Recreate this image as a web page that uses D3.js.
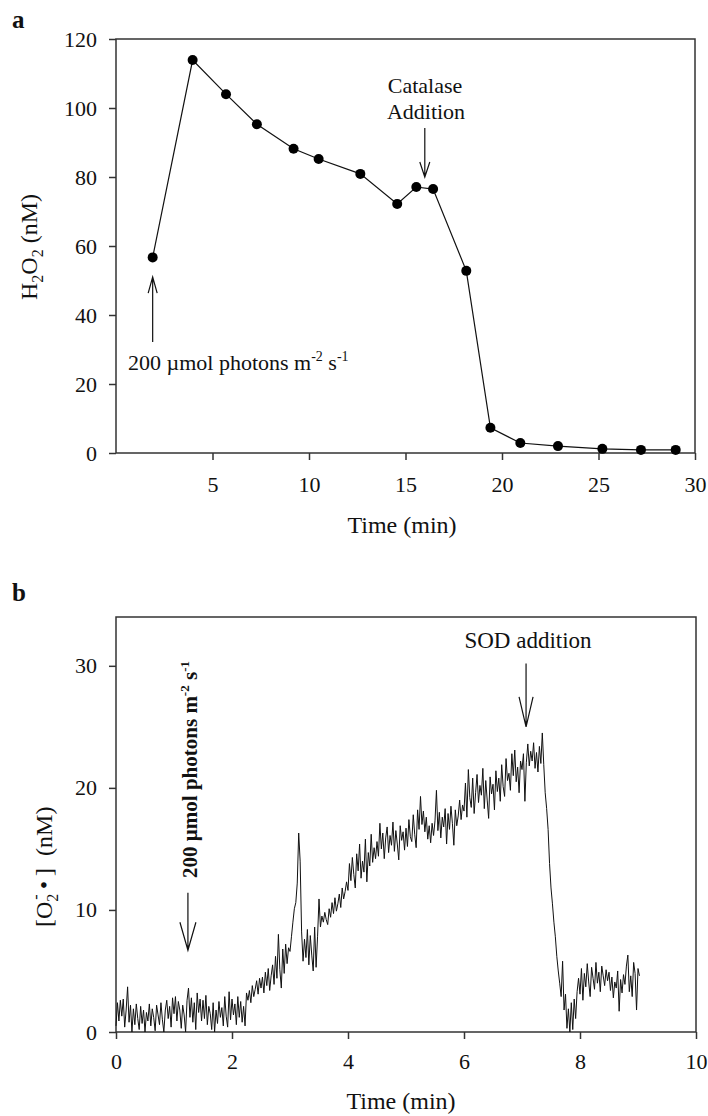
<!DOCTYPE html>
<meta charset="utf-8">
<script src="https://cdn.jsdelivr.net/npm/d3@7/dist/d3.min.js"></script>
<html>
<head>
<style>
  body { margin: 0; background: #fff; }
  svg { display: block; }
</style>
</head>
<body>
<div id="chart"></div>
<script>

// panel a : H2O2 (nM) vs time (min)
var h2o2Time  = [1.9, 3.97, 5.7, 7.3, 9.2, 10.5, 12.66, 14.57, 15.56, 16.43, 18.15, 19.4, 20.95, 22.9, 25.2, 27.2, 29.0];
var h2o2Value = [56.7, 113.9, 104.0, 95.3, 88.2, 85.2, 80.9, 72.2, 77.1, 76.5, 52.8, 7.3, 2.9, 2.0, 1.2, 0.9, 0.9];
var aTicksX = [5, 10, 15, 20, 25, 30];
var aTicksY = [0, 20, 40, 60, 80, 100, 120];

// panel b : superoxide trace, one reading every 0.025 min from t = 0
var o2Start = 0, o2Step = 0.025;
var o2Value = [
  0.5, 2.4, 0.9, 2.6, 1.3, 2.7, 0.4, 1.8, 3.7, 0.8, 2.2, 0.0, 1.9, 0.6, 2.3, 1.1, 0.2, 2.1, 0.7, 1.8,
  0.0, 1.6, 0.9, 2.3, 0.5, 1.9, 1.2, 0.1, 2.2, 1.4, 0.6, 2.4, 1.0, 0.0, 1.8, 2.6, 1.1, 2.1, 0.4, 2.8,
  1.5, 2.9, 0.9, 2.5, 1.8, 0.3, 2.2, 1.4, 0.0, 2.6, 3.6, 1.2, 2.8, 0.8, 2.4, 0.2, 3.2, 1.6, 2.7, 0.9,
  2.6, 1.1, 3.0, 0.6, 2.1, 1.5, 0.2, 2.4, 0.0, 1.8, 0.7, 2.5, 1.2, 2.0, 0.5, 2.9, 1.3, 0.4, 3.3, 1.0,
  2.7, 1.4, 2.3, 0.6, 2.9, 1.2, 2.5, 0.8, 2.1, 0.5, 3.2, 2.6, 3.4, 2.4, 3.8, 2.9, 3.5, 4.2, 3.1, 4.4,
  3.6, 4.5, 3.2, 4.9, 3.8, 5.2, 3.4, 4.6, 5.5, 3.9, 6.2, 4.4, 8.0, 5.1, 3.6, 6.8, 4.8, 7.2, 5.6, 6.9,
  6.6, 7.8, 9.0, 10.1, 10.6, 12.2, 16.3, 14.0, 8.2, 5.8, 7.6, 6.1, 8.4, 5.5, 7.9, 6.3, 5.0, 8.6, 5.3, 7.8,
  10.9, 8.6, 9.5, 9.0, 9.8, 9.2, 8.8, 10.1, 9.4, 10.6, 9.7, 11.0, 9.9, 10.5, 11.3, 10.2, 11.8, 10.9, 11.5, 12.3,
  11.6, 13.8, 12.4, 14.3, 12.9, 11.8, 14.6, 13.2, 15.4, 12.6, 14.0, 13.1, 15.8, 12.3, 14.7, 13.6, 16.2, 13.9, 15.1, 14.2,
  15.6, 14.4, 17.1, 15.0, 16.3, 14.2, 15.9, 16.8, 14.7, 16.1, 15.3, 17.2, 14.8, 16.5, 15.4, 14.1, 16.9, 15.7, 16.4, 14.9,
  16.7, 15.2, 17.4, 16.0, 15.6, 17.8, 16.2, 15.1, 18.2, 16.6, 19.3, 17.0, 18.1, 16.4, 17.6, 15.8, 16.9, 15.5, 17.1, 16.1,
  17.3, 19.8, 16.5, 18.0, 15.9, 17.6, 16.8, 18.3, 15.4, 17.9, 16.6, 18.5, 17.1, 15.3, 18.2, 16.9, 17.7, 19.0, 17.4, 18.6,
  18.1, 20.4, 17.6, 21.5, 19.2, 18.4, 20.8, 17.9, 19.6, 21.1, 18.8, 20.2, 19.4, 21.6, 18.3, 20.6, 19.0, 17.5, 20.9, 19.5,
  20.3, 18.2, 21.4, 19.7, 20.8, 18.9, 21.9, 20.1, 19.3, 22.4, 20.6, 21.2, 19.8, 22.8, 21.0, 23.1, 20.5, 21.7, 19.6, 22.2,
  21.5, 22.8, 18.9, 22.1, 23.6, 21.8, 23.0, 22.2, 23.7, 21.6, 22.9, 21.3, 23.4, 22.0, 24.5, 21.9, 19.6, 18.3, 16.6, 13.8,
  11.8, 10.5, 9.0, 7.8, 6.2, 5.0, 4.0, 2.9, 5.8, 1.8, 3.1, 0.3, 1.9, 0.0, 2.4, 0.2, 2.7, 1.1, 3.3, 4.4,
  3.1, 5.2, 2.6, 4.8, 3.7, 5.6, 4.1, 2.9, 5.3, 4.4, 3.5, 5.7, 4.0, 4.9, 3.3, 5.4, 4.6, 3.8, 5.1, 4.2,
  4.9, 3.4, 4.5, 2.8, 4.1, 3.6, 5.0, 1.7, 4.3, 3.2, 4.7, 3.9, 5.4, 6.3, 3.3, 4.6, 2.9, 5.7, 4.8, 1.8,
  5.2, 4.6
];
var bTicksX = [0, 2, 4, 6, 8, 10];
var bTicksY = [0, 10, 20, 30];

var serif = "'Liberation Serif', 'Times New Roman', serif";
var ink = "#111";

var svg = d3.select("#chart").append("svg")
  .attr("width", 708).attr("height", 1116)
  .attr("font-family", serif);

function axes(x, y, xt, yt, padX) {
  var bottom = y.range()[0], top = y.range()[1];
  var left = x.range()[0], right = x.range()[1];

  var gx = svg.append("g")
    .attr("transform", "translate(0," + bottom + ")")
    .call(d3.axisBottom(x).tickValues(xt).tickSize(7).tickSizeOuter(0).tickPadding(padX));
  var gy = svg.append("g")
    .attr("transform", "translate(" + left + ",0)")
    .call(d3.axisLeft(y).tickValues(yt).tickSize(7).tickSizeOuter(0).tickPadding(12));

  [gx, gy].forEach(function(g) {
    g.select(".domain").remove();
    g.selectAll("line").attr("stroke", "#333").attr("stroke-width", 1.5);
    g.selectAll("text").attr("font-size", 22).attr("font-family", serif).attr("fill", ink);
  });

  svg.append("rect")
    .attr("x", left).attr("y", top)
    .attr("width", right - left).attr("height", bottom - top)
    .attr("fill", "none").attr("stroke", "#333").attr("stroke-width", 1.5);
}

// open "V" arrow from (x, y1) to tip (x, y2)
function arrow(px, y1, y2, head, half) {
  var d = y2 > y1 ? -1 : 1;
  svg.append("path")
    .attr("d", "M" + px + "," + y1 + "L" + px + "," + y2 +
               "M" + (px - half) + "," + (y2 + d * head) + "L" + px + "," + y2 +
               "L" + (px + half) + "," + (y2 + d * head))
    .attr("fill", "none").attr("stroke", ink).attr("stroke-width", 1.2);
}

/* ---------- panel a ---------- */
var xa = d3.scaleLinear().domain([0, 30]).range([116, 695]);
var ya = d3.scaleLinear().domain([0, 120]).range([453, 39]);
axes(xa, ya, aTicksX, aTicksY, 16);

var ptsA = h2o2Time.map(function(t, i) { return { x: t, y: h2o2Value[i] }; });

svg.append("path")
  .datum(ptsA)
  .attr("fill", "none").attr("stroke", ink).attr("stroke-width", 1.2)
  .attr("d", d3.line().x(function(d) { return xa(d.x); }).y(function(d) { return ya(d.y); }));

svg.selectAll(".dotA").data(ptsA).enter().append("circle")
  .attr("class", "dotA")
  .attr("cx", function(d) { return xa(d.x); })
  .attr("cy", function(d) { return ya(d.y); })
  .attr("r", 5).attr("fill", "#000");

svg.append("text").attr("x", 12).attr("y", 28)
  .attr("font-size", 25).attr("font-weight", "bold").attr("fill", ink).text("a");

var labA = svg.append("text")
  .attr("transform", "translate(37,247) rotate(-90)")
  .attr("text-anchor", "middle").attr("font-size", 24).attr("fill", ink);
labA.append("tspan").text("H");
labA.append("tspan").attr("font-size", 16).attr("dy", 6).text("2");
labA.append("tspan").attr("dy", -6).text("O");
labA.append("tspan").attr("font-size", 16).attr("dy", 6).text("2");
labA.append("tspan").attr("dy", -6).text(" (nM)");

svg.append("text").attr("x", 402).attr("y", 533)
  .attr("text-anchor", "middle").attr("font-size", 24).attr("fill", ink).text("Time (min)");

// catalase addition
svg.append("text").attr("x", 425).attr("y", 93).attr("text-anchor", "middle")
  .attr("font-size", 22).attr("fill", ink).text("Catalase");
svg.append("text").attr("x", 426).attr("y", 119).attr("text-anchor", "middle")
  .attr("font-size", 22).attr("fill", ink).text("Addition");
arrow(xa(16.0), ya(94.2), ya(80), 15, 5);

// light on
arrow(xa(1.9), ya(32.2), ya(51), 16, 4.5);
var lightA = svg.append("text").attr("x", 128).attr("y", 370)
  .attr("font-size", 22).attr("fill", ink);
lightA.append("tspan").text("200 µmol photons m");
lightA.append("tspan").attr("font-size", 14).attr("dy", -9).text("-2");
lightA.append("tspan").attr("dy", 9).text(" s");
lightA.append("tspan").attr("font-size", 14).attr("dy", -9).text("-1");

/* ---------- panel b ---------- */
var xb = d3.scaleLinear().domain([0, 10]).range([116, 696]);
var yb = d3.scaleLinear().domain([0, 34]).range([1032, 617]);
axes(xb, yb, bTicksX, bTicksY, 14);

svg.append("path")
  .datum(o2Value)
  .attr("fill", "none").attr("stroke", ink).attr("stroke-width", 1)
  .attr("stroke-linejoin", "round")
  .attr("d", d3.line()
    .x(function(d, i) { return xb(o2Start + i * o2Step); })
    .y(function(d) { return yb(d); }));

svg.append("text").attr("x", 12).attr("y", 601)
  .attr("font-size", 25).attr("font-weight", "bold").attr("fill", ink).text("b");

var labB = svg.append("text")
  .attr("transform", "translate(52,927) rotate(-90)")
  .attr("font-size", 24).attr("fill", ink);
labB.append("tspan").text("[O");
labB.append("tspan").attr("font-size", 16).attr("dy", 6).text("2");
labB.append("tspan").attr("font-size", 16).attr("dx", -6).attr("dy", -17).text("-");
labB.append("tspan").attr("dy", 11).attr("dx", 5).text("•");
labB.append("tspan").attr("dx", 5).text("]");
labB.append("tspan").attr("dx", 12).text("(nM)");

svg.append("text").attr("x", 401).attr("y", 1109)
  .attr("text-anchor", "middle").attr("font-size", 24).attr("fill", ink).text("Time (min)");

// light on (rotated, bold)
var lightB = svg.append("text")
  .attr("transform", "translate(197,878) rotate(-90)")
  .attr("font-size", 21).attr("font-weight", "bold").attr("fill", ink);
lightB.append("tspan").text("200 µmol photons m");
lightB.append("tspan").attr("font-size", 13).attr("dy", -8).text("-2");
lightB.append("tspan").attr("dy", 8).text(" s");
lightB.append("tspan").attr("font-size", 13).attr("dy", -8).text("-1");
arrow(xb(1.24), yb(11.4), yb(6.7), 28, 8);

// SOD addition
svg.append("text").attr("x", 528).attr("y", 648).attr("text-anchor", "middle")
  .attr("font-size", 23).attr("fill", ink).text("SOD addition");
arrow(xb(7.07), yb(30.2), yb(25.0), 30, 7);

</script>
</body>
</html>
